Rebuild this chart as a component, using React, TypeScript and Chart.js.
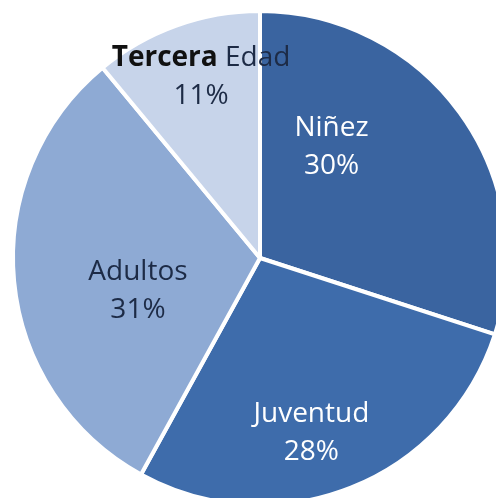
import React, { useEffect, useRef } from "react";
import { Chart, registerables } from "chart.js";

Chart.register(...registerables);

const categories = ["Niñez", "Juventud", "Adultos", "Tercera Edad"];
const shares = [30, 28, 31, 11];
const sliceColors = ["#3a64a0", "#3e6cab", "#8eaad4", "#c7d4ea"];
const labelColors = ["#ffffff", "#ffffff", "#1d2b46", "#1d2b46"];
// where each label sits inside its slice: fraction along the slice, fraction of radius
const labelAlong = [0.3, 0.55, 0.42, 0.55];
const labelRadial = [0.54, 0.73, 0.51, 0.78];

const FONT = '"Open Sans", "Liberation Sans", sans-serif';
const SIZE = 28;

const labelPlugin = {
  id: "sliceLabels",
  afterDatasetsDraw(chart: any) {
    const meta = chart.getDatasetMeta(0);
    const ctx = chart.ctx;
    const data = chart.data.datasets[0].data as number[];
    const total = data.reduce((a, b) => a + b, 0);
    meta.data.forEach((arc: any, i: number) => {
      const { x, y, startAngle, endAngle, outerRadius } = arc.getProps(
        ["x", "y", "startAngle", "endAngle", "outerRadius"],
        true
      );
      const a = startAngle + labelAlong[i] * (endAngle - startAngle);
      const r = labelRadial[i] * outerRadius;
      const cx = x + Math.cos(a) * r;
      const cy = y + Math.sin(a) * r;
      const pct = Math.round((data[i] / total) * 100) + "%";
      const name = chart.data.labels[i] as string;
      ctx.save();
      ctx.textBaseline = "alphabetic";
      const b1 = cy - 9;
      const b2 = cy + 29;
      if (i === 3) {
        const words = name.split(" ");
        ctx.font = `bold ${SIZE}px ${FONT}`;
        const w1 = ctx.measureText(words[0] + " ").width;
        ctx.font = `${SIZE}px ${FONT}`;
        const w2 = ctx.measureText(words.slice(1).join(" ")).width;
        const start = cx - (w1 + w2) / 2;
        ctx.textAlign = "left";
        ctx.font = `bold ${SIZE}px ${FONT}`;
        ctx.fillStyle = "#111111";
        ctx.fillText(words[0] + " ", start, b1);
        ctx.font = `${SIZE}px ${FONT}`;
        ctx.fillStyle = labelColors[i];
        ctx.fillText(words.slice(1).join(" "), start + w1, b1);
      } else {
        ctx.textAlign = "center";
        ctx.font = `${SIZE}px ${FONT}`;
        ctx.fillStyle = labelColors[i];
        ctx.fillText(name, cx, b1);
      }
      ctx.textAlign = "center";
      ctx.font = `${SIZE}px ${FONT}`;
      ctx.fillStyle = labelColors[i];
      ctx.fillText(pct, cx, b2);
      ctx.restore();
    });
  },
};

export default function App() {
  const ref = useRef<HTMLCanvasElement | null>(null);
  useEffect(() => {
    if (!ref.current) return;
    const chart = new Chart(ref.current, {
      type: "pie",
      data: {
        labels: categories,
        datasets: [
          {
            data: shares,
            backgroundColor: sliceColors,
            borderColor: "#ffffff",
            borderWidth: 4,
            radius: 247,
          } as any,
        ],
      },
      options: {
        animation: false,
        responsive: false,
        layout: { padding: { left: 24, right: 0, top: 18, bottom: 0 } },
        plugins: {
          legend: { display: false },
          tooltip: { enabled: false },
        },
      },
      plugins: [labelPlugin],
    });
    return () => chart.destroy();
  }, []);
  return (
    <div
      style={{
        position: "fixed",
        left: 0,
        top: 0,
        width: 496,
        height: 498,
        overflow: "hidden",
        background: "#ffffff",
      }}
    >
      <canvas ref={ref} width={496} height={498} style={{ display: "block" }} />
    </div>
  );
}
